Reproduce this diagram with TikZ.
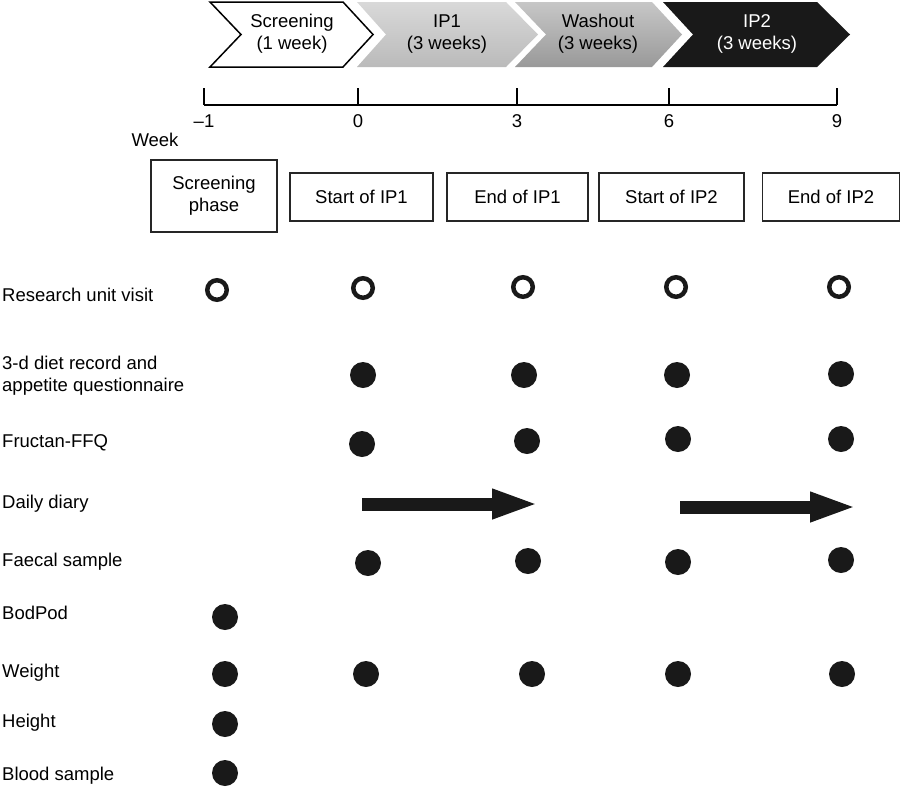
\documentclass[tikz,border=0pt]{standalone}
\usepackage{fontspec}
\setmainfont{Liberation Sans}
\usetikzlibrary{arrows.meta}

\definecolor{dotblack}{gray}{0.1}

\begin{document}
\begin{tikzpicture}[
        x=1pt, y=-1pt,
        every node/.style={font=\fontsize{18.5}{22}\selectfont, inner sep=0pt},
        phaselabel/.style={align=center},
        box/.style={draw=black!85, line width=1.5pt, align=center, minimum height=48pt},
        rowlabel/.style={anchor=base west},
        visit/.style={circle, draw=dotblack, line width=4.5pt, minimum size=19.5pt},
        dot/.style={circle, fill=dotblack, minimum size=26pt},
        diary/.style={line width=13pt, dotblack, -{Triangle[length=47pt, width=27pt]}}
        ]
        \useasboundingbox (0,0) rectangle (901,787);

        % phases
        \path[draw=black, line width=1.5pt, fill=white] (210,2) -- (343,2) -- (373,34.5) -- (343,67) -- (210,67) -- (241,34.5) -- cycle;
        \path[top color=black!15, bottom color=black!27] (357,2) -- (506,2) -- (538,34.5) -- (506,67) -- (357,67) -- (386,34.5) -- cycle;
        \path[top color=black!22, bottom color=black!40] (515,2) -- (652,2) -- (682,34.5) -- (652,67) -- (515,67) -- (546,34.5) -- cycle;
        \path[fill=black!90] (663,2) -- (817,2) -- (850,34.5) -- (817,67) -- (663,67) -- (693,34.5) -- cycle;
        \node[phaselabel] (screen) at (292,34) {Screening\\(1 week)};
        \node[phaselabel] (ipone) at (447,34) {IP1\\(3 weeks)};
        \node[phaselabel] (wash) at (598,34) {Washout\\(3 weeks)};
        \node[phaselabel, text=white] (iptwo) at (757,34) {IP2\\(3 weeks)};

        % time axis
        \draw[line width=1.2pt] (204,105) -- (837,105);
        \foreach \x/\w [count=\i] in {204/{–1}, 358/0, 517/3, 669/6, 837/9} {
            \draw[line width=1.2pt] (\x,88) -- (\x,105);
            \node (wk\i) at (\x,121) {\w};
        }
        \node (week) at (155,140) {Week};

        % visits
        \node[box, minimum width=126pt, minimum height=72pt] (bscreen) at (214,196) {Screening\\phase};
        \node[box, minimum width=143pt] (bstartone) at (361.5,197) {Start of IP1};
        \node[box, minimum width=141pt] (bendone) at (517.5,197) {End of IP1};
        \node[box, minimum width=145pt] (bstarttwo) at (671.5,197) {Start of IP2};
        \node[box, minimum width=137pt] (bendtwo) at (831,197) {End of IP2};

        % row labels
        \node[rowlabel] (lvisit) at (2,301) {Research unit visit};
        \node[anchor=west, align=left] (ldiet) at (2,376) {3-d diet record and\\appetite questionnaire};
        \node[rowlabel] (lffq) at (2,447) {Fructan-FFQ};
        \node[rowlabel] (ldiary) at (2,508) {Daily diary};
        \node[rowlabel] (lfaecal) at (2,566) {Faecal sample};
        \node[rowlabel] (lbod) at (2,619) {BodPod};
        \node[rowlabel] (lweight) at (2,677) {Weight};
        \node[rowlabel] (lheight) at (2,727) {Height};
        \node[rowlabel] (lblood) at (2,780) {Blood sample};

        % measurements
        \foreach \x/\y [count=\i] in {217/290, 363/288, 523/287, 676/287, 839/287}
            \node[visit] (visit\i) at (\x,\y) {};
        \foreach \x/\y [count=\i] in {363/375, 524/375, 677/375, 841/374}
            \node[dot] (diet\i) at (\x,\y) {};
        \foreach \x/\y [count=\i] in {362/444, 527/441, 678/439, 841/439}
            \node[dot] (ffq\i) at (\x,\y) {};
        \foreach \x/\y [count=\i] in {368/563, 528/561, 678/562, 841/560}
            \node[dot] (faecal\i) at (\x,\y) {};
        \foreach \x/\y [count=\i] in {225/674, 366/674, 532/674, 678/674, 842/674}
            \node[dot] (weight\i) at (\x,\y) {};
        \node[dot] (bod) at (225,617) {};
        \node[dot] (height) at (225,724) {};
        \node[dot] (blood) at (225,773) {};

        \coordinate (diaryA) at (362,504);
        \coordinate (diaryB) at (539,504);
        \coordinate (diaryC) at (680,507);
        \coordinate (diaryD) at (857,507);
        \draw[diary] (diaryA) -- (diaryB);
        \draw[diary] (diaryC) -- (diaryD);
\end{tikzpicture}
\end{document}
